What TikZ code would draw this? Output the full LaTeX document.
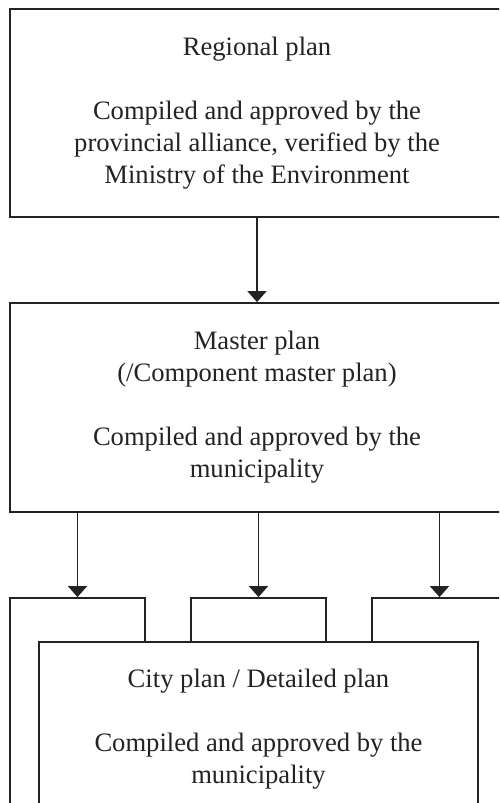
\documentclass[tikz,border=0pt]{standalone}
\usepackage{fontspec}
\setmainfont{Liberation Serif}
\usetikzlibrary{arrows.meta}
\definecolor{ink}{RGB}{35,35,35}
\tikzset{
  plan/.style={draw=ink, line width=0.9pt, fill=white, align=center, text=ink,
    inner sep=0pt, font=\fontsize{13.3}{16}\selectfont},
  feed/.style={draw=ink, line width=0.9pt, -{Triangle[length=5.5pt,width=9.5pt]}}
}
\begin{document}
\begin{tikzpicture}[x=0.5pt,y=-0.5pt]
      \useasboundingbox (0,0) rectangle (499,803);
      \clip (0,0) rectangle (499,803);

      \node[plan, minimum width=247pt, minimum height=104pt] (regional) at (257,113)
        {Regional plan\\[16pt]Compiled and approved by the\\provincial alliance, verified by the\\Ministry of the Environment};
      \node[plan, minimum width=247pt, minimum height=104.5pt] (master) at (257,407.5)
        {Master plan\\(/Component master plan)\\[16pt]Compiled and approved by the\\municipality};

      % plans behind the front one
      \node[plan, minimum width=67.5pt, minimum height=126pt] (cityL) at (77.5,724) {};
      \node[plan, minimum width=67.5pt, minimum height=126pt] (cityM) at (258.5,724) {};
      \node[plan, minimum width=67.5pt, minimum height=126pt] (cityR) at (439.5,724) {};
      \node[plan, minimum width=219.5pt, minimum height=87pt] (city) at (258.5,729)
        {City plan / Detailed plan\\[16pt]Compiled and approved by the\\municipality};

      \draw[feed] (regional) -- (master);
      \draw[feed] (cityL.north |- master.south) -- (cityL);
      \draw[feed] (cityM.north |- master.south) -- (cityM);
      \draw[feed] (cityR.north |- master.south) -- (cityR);
    \end{tikzpicture}
\end{document}
